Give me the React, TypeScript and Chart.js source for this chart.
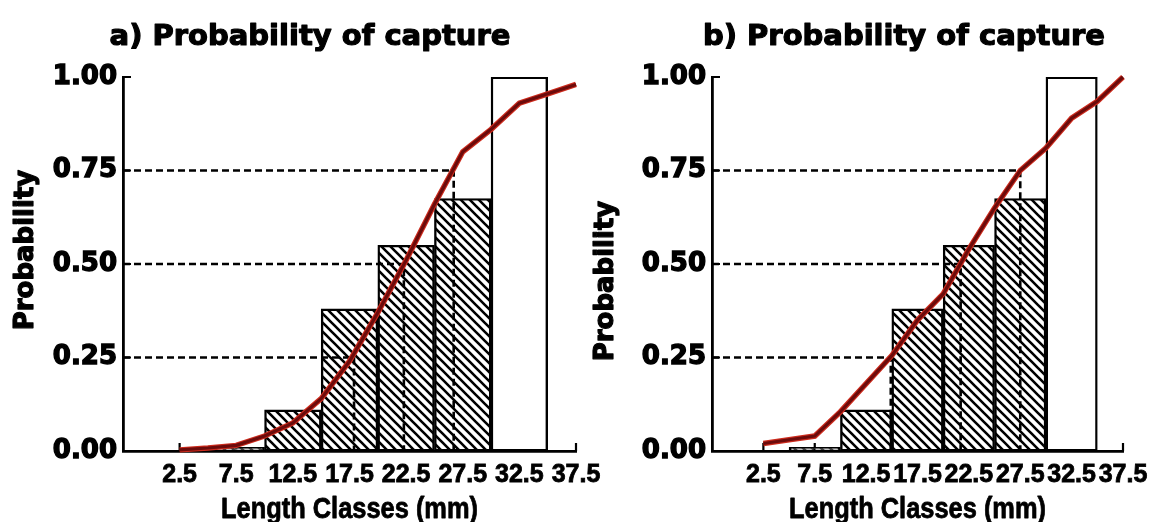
import React, { useEffect, useRef } from "react";
import { Chart, registerables } from "chart.js";

Chart.register(...registerables);

// ---------- data ----------
const lengthClasses = [2.5, 7.5, 12.5, 17.5, 22.5, 27.5, 32.5, 37.5];
const observedProb: (number | null)[] = [null, 0.01, 0.11, 0.38, 0.55, 0.675, 1.0, null];
const openClass = 32.5;

const curveLengths = [2.5, 5, 7.5, 10, 12.5, 15, 17.5, 20, 22.5, 25, 27.5, 30, 32.5, 35, 37.5];
const curveA = [0.003, 0.008, 0.015, 0.04, 0.075, 0.14, 0.24, 0.37, 0.51, 0.66, 0.8, 0.86, 0.93, 0.955, 0.98];
const curveB = [0.02, 0.03, 0.04, 0.105, 0.18, 0.255, 0.35, 0.42, 0.54, 0.65, 0.75, 0.81, 0.89, 0.935, 1.0];

const quartileProbs = [0.25, 0.5, 0.75];
const quartileLengthsA = [17.9, 22.3, 26.7];
const quartileLengthsB = [14.9, 21.7, 27.5];

const yTickValues = [0, 0.25, 0.5, 0.75, 1];
const xMin = -2.5;
const xMax = 37.5;

const panelTitles = ["a) Probability of capture", "b) Probability of capture"];
const xAxisTitle = "Length Classes (mm)";
const yAxisTitle = "Probability";

// ---------- layout ----------
type PanelCfg = {
  left: number;
  width: number;
  yAxisWidth: number;
  padRight: number;
  titleCx: number;
  yTitleCy: number;
  z: number;
  title: string;
  curve: number[];
  qLengths: number[];
};

const H = 522;

const panels: PanelCfg[] = [
  { left: 0, width: 620, yAxisWidth: 123, padRight: 44, titleCx: 310, yTitleCy: 250, z: 2, title: panelTitles[0], curve: curveA, qLengths: quartileLengthsA },
  { left: 580, width: 579, yAxisWidth: 132, padRight: 36, titleCx: 324, yTitleCy: 281, z: 1, title: panelTitles[1], curve: curveB, qLengths: quartileLengthsB },
];

function makeHatch(ctx: CanvasRenderingContext2D): CanvasPattern | string {
  const s = 9;
  const c = document.createElement("canvas");
  c.width = s;
  c.height = s;
  const g = c.getContext("2d");
  if (!g) return "#fff";
  g.fillStyle = "#fff";
  g.fillRect(0, 0, s, s);
  g.strokeStyle = "#000";
  g.lineWidth = 2.6;
  g.beginPath();
  for (const o of [-s, 0, s]) {
    g.moveTo(o - 2, -2);
    g.lineTo(o + s + 2, s + 2);
  }
  g.stroke();
  return ctx.createPattern(c, "repeat") || "#fff";
}

function heavyText(ctx: CanvasRenderingContext2D, text: string, x: number, y: number, stroke: number) {
  ctx.lineWidth = stroke;
  ctx.strokeStyle = "#000";
  ctx.lineJoin = "round";
  ctx.strokeText(text, x, y);
  ctx.fillText(text, x, y);
}

function makeDecor(cfg: PanelCfg) {
  return {
    id: "decor",
    beforeDatasetsDraw(chart: any) {
      const { ctx, chartArea } = chart;
      const xs = chart.scales.x;
      const ys = chart.scales.y;
      ctx.save();
      ctx.strokeStyle = "#000";
      ctx.lineWidth = 2.2;
      ctx.beginPath();
      for (const v of lengthClasses) {
        const px = xs.getPixelForValue(v);
        ctx.moveTo(px, chartArea.bottom);
        ctx.lineTo(px, chartArea.bottom - 8);
      }
      for (const v of yTickValues) {
        if (v === 0) continue;
        const py = ys.getPixelForValue(v);
        ctx.moveTo(chartArea.left, py);
        ctx.lineTo(chartArea.left + 8, py);
      }
      ctx.stroke();
      ctx.restore();
    },
    afterDraw(chart: any) {
      const { ctx, chartArea } = chart;
      ctx.save();
      ctx.fillStyle = "#000";
      // panel title
      ctx.font = 'bold 29px "DejaVu Sans"';
      ctx.textAlign = "center";
      ctx.textBaseline = "alphabetic";
      heavyText(ctx, cfg.title, cfg.titleCx, 45, 1.2);
      // x axis title (condensed)
      ctx.font = 'bold 30px "Liberation Sans", sans-serif';
      const w = ctx.measureText(xAxisTitle).width;
      const sx = Math.min(1, 257 / w);
      ctx.save();
      ctx.translate((chartArea.left + chartArea.right) / 2, 518);
      ctx.scale(sx, 1);
      heavyText(ctx, xAxisTitle, 0, 0, 0.8);
      ctx.restore();
      // y axis title
      ctx.font = 'bold 26px "DejaVu Sans"';
      ctx.save();
      ctx.translate(33, cfg.yTitleCy);
      ctx.rotate(-Math.PI / 2);
      heavyText(ctx, yAxisTitle, 0, 0, 1.2);
      ctx.restore();
      ctx.restore();
    },
  };
}

function buildConfig(cfg: PanelCfg, ctx: CanvasRenderingContext2D): any {
  const hatch = makeHatch(ctx);
  const curvePts = curveLengths.map((x, i) => ({ x, y: cfg.curve[i] }));
  const quartileSets = quartileProbs.map((p, i) => ({
    type: "line",
    data: [
      { x: xMin, y: p },
      { x: cfg.qLengths[i], y: p },
      { x: cfg.qLengths[i], y: 0 },
    ],
    borderColor: "#000",
    borderWidth: 2.6,
    borderDash: [7, 4],
    pointRadius: 0,
    tension: 0,
    fill: false,
    order: 2,
  }));
  return {
    type: "bar",
    data: {
      datasets: [
        { type: "line", data: curvePts, borderColor: "#6c0b0b", borderWidth: 3.2, pointRadius: 0, tension: 0, fill: false, order: 0, clip: false },
        { type: "line", data: curvePts, borderColor: "#cc2a1c", borderWidth: 5.5, pointRadius: 0, tension: 0, fill: false, order: 1, clip: false },
        ...quartileSets,
        {
          type: "bar",
          data: lengthClasses.map((x, i) => ({ x, y: observedProb[i] })),
          backgroundColor: (c: any) => (c.raw && c.raw.x === openClass ? "#ffffff" : hatch),
          borderColor: "#000",
          borderWidth: 2.4,
          borderSkipped: false,
          barPercentage: 1,
          categoryPercentage: 1,
          grouped: false,
          order: 3,
        },
      ],
    },
    options: {
      animation: false,
      responsive: false,
      events: [],
      layout: { padding: { top: 77, right: cfg.padRight, left: 0, bottom: 0 } },
      plugins: { legend: { display: false }, tooltip: { enabled: false }, title: { display: false } },
      scales: {
        x: {
          type: "linear",
          min: xMin,
          max: xMax,
          offset: false,
          grid: { display: false, drawTicks: false, offset: false },
          border: { display: true, color: "#000", width: 2.8 },
          ticks: {
            autoSkip: false,
            maxRotation: 0,
            minRotation: 0,
            padding: 9,
            color: "#000",
            textStrokeColor: "#000",
            textStrokeWidth: 0.8,
            font: { family: "Liberation Sans", weight: "bold", size: 25 },
            callback: (v: any) => String(v),
          },
          afterBuildTicks: (s: any) => {
            s.ticks = lengthClasses.map((v) => ({ value: v }));
          },
          afterFit: (s: any) => {
            s.height = H - 451;
            s.paddingLeft = 0;
            s.paddingRight = 0;
          },
        },
        y: {
          type: "linear",
          min: 0,
          max: 1,
          grid: { display: false, drawTicks: false },
          border: { display: true, color: "#000", width: 2.8 },
          ticks: {
            padding: 6,
            color: "#000",
            textStrokeColor: "#000",
            textStrokeWidth: 1.4,
            font: { family: "DejaVu Sans", weight: "bold", size: 26 },
            callback: (v: any) => Number(v).toFixed(2),
          },
          afterBuildTicks: (s: any) => {
            s.ticks = yTickValues.map((v) => ({ value: v }));
          },
          afterFit: (s: any) => {
            s.width = cfg.yAxisWidth;
            s.paddingTop = 0;
            s.paddingBottom = 0;
          },
        },
      },
    },
    plugins: [makeDecor(cfg)],
  };
}

function Panel({ cfg }: { cfg: PanelCfg }) {
  const ref = useRef<HTMLCanvasElement>(null);
  useEffect(() => {
    const canvas = ref.current;
    if (!canvas) return;
    const ctx = canvas.getContext("2d");
    if (!ctx) return;
    const chart = new Chart(canvas, buildConfig(cfg, ctx));
    return () => chart.destroy();
  }, [cfg]);
  return (
    <canvas
      ref={ref}
      width={cfg.width}
      height={H}
      style={{ position: "absolute", left: cfg.left, top: 0, width: cfg.width, height: H, zIndex: cfg.z }}
    />
  );
}

export default function App() {
  return (
    <div style={{ position: "absolute", left: 0, top: 0, width: 1159, height: H, background: "#fff", overflow: "hidden" }}>
      <Panel cfg={panels[1]} />
      <Panel cfg={panels[0]} />
    </div>
  );
}
